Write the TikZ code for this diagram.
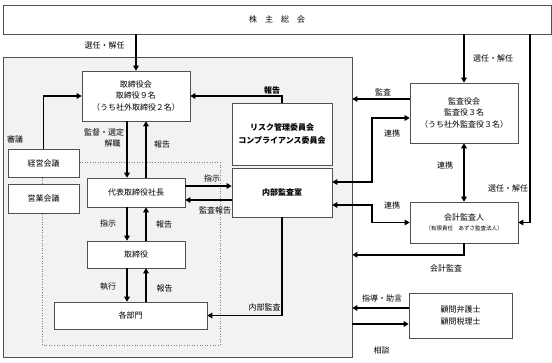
\documentclass[tikz,border=0pt]{standalone}
\usepackage{fontspec}
\usepackage{tikz}
\setmainfont{Noto Sans CJK JP}
\definecolor{hqfill}{HTML}{F2F2F2}
\definecolor{boxline}{HTML}{505050}
\usetikzlibrary{arrows.meta,calc}

\begin{document}
\begin{tikzpicture}[x=1pt,y=-1pt,
    box/.style={draw=boxline,fill=white,line width=0.6pt,align=center,inner sep=0pt,font=\fontsize{8}{11.5}\selectfont},
    lbl/.style={inner sep=1pt,font=\fontsize{8}{10}\selectfont},
    arr/.style={line width=1.8pt,-{Triangle[length=5pt,width=5.5pt]}},
    dbl/.style={line width=1.8pt,{Triangle[length=5pt,width=5.5pt]}-{Triangle[length=5pt,width=5.5pt]}}]
        \useasboundingbox (0,0) rectangle (552,362);
        \node[box,minimum width=548pt,minimum height=29pt] (soukai) at (277,19.5) {株　主　総　会};
        \node[draw=boxline,fill=hqfill,line width=0.6pt,minimum width=349pt,minimum height=300pt,inner sep=0pt] (hq) at (177.5,207) {};
        \draw[gray,dotted,line width=0.6pt] (42,162) rectangle (220,345);
        \node[box,minimum width=108pt,minimum height=50pt] (board) at (136,96) {取締役会\\取締役９名\\（うち社外取締役２名）};
        \node[box,minimum width=100pt,minimum height=62pt,font=\fontsize{8}{12.5}\selectfont\bfseries] (risk) at (282,134) {リスク管理委員会\\コンプライアンス委員会};
        \node[box,minimum width=100pt,minimum height=49pt,font=\fontsize{8}{10}\selectfont\bfseries] (naibu) at (282,192.5) {内部監査室};
        \node[box,minimum width=71pt,minimum height=28pt] (keiei) at (43.5,163) {経営会議};
        \node[box,minimum width=71pt,minimum height=29pt] (eigyo) at (43.5,198.5) {営業会議};
        \node[box,minimum width=98pt,minimum height=29pt] (shacho) at (136,192.5) {代表取締役社長};
        \node[box,minimum width=98pt,minimum height=27pt] (torishimari) at (136,254.5) {取締役};
        \node[box,minimum width=153pt,minimum height=27pt] (bumon) at (130.5,315.5) {各部門};
        \node[box,minimum width=108pt,minimum height=60pt] (kansa) at (464,113) {監査役会\\監査役３名\\（うち社外監査役３名）};
        \node[box,minimum width=108pt,minimum height=41pt] (kaikei) at (464,222.5) {会計監査人\\[-2pt]{\fontsize{5.5}{7}\selectfont（有限責任　あずさ監査法人）}};
        \node[box,minimum width=103pt,minimum height=45pt] (komon) at (460.5,315.5) {顧問弁護士\\顧問税理士};
        \coordinate (rline) at (530,222.5);

        \draw[arr] (soukai.south -| board.north) -- (board.north);
        \draw[arr] (soukai.south -| kansa.north) -- (kansa.north);
        \draw[arr] (soukai.south -| rline) |- (kaikei.east);
        \draw[arr] (keiei.north) |- (board.west);
        \draw[arr] (risk.north) |- (board.east);
        \draw[arr] ([xshift=-9pt]board.south) -- ([xshift=-9pt]shacho.north);
        \draw[arr] ([xshift=10pt]shacho.north) -- ([xshift=10pt]board.south);
        \draw[arr] ([xshift=-9pt]shacho.south) -- ([xshift=-9pt]torishimari.north);
        \draw[arr] ([xshift=10pt]torishimari.north) -- ([xshift=10pt]shacho.south);
        \draw[arr] ([xshift=-9pt]torishimari.south) -- ([xshift=-9pt]torishimari.south |- bumon.north);
        \draw[arr] ([xshift=10pt]torishimari.south |- bumon.north) -- ([xshift=10pt]torishimari.south);
        \draw[arr] ([yshift=6.5pt]shacho.east) -- ([yshift=6.5pt]naibu.west);
        \draw[arr] ([yshift=-7.5pt]naibu.west) -- ([yshift=-7.5pt]shacho.east);
        \draw[arr] (naibu.south) |- (bumon.east);
        \draw[dbl] ([yshift=10.5pt]naibu.east) -- ++(40,0) |- ([yshift=-5pt]kansa.west);
        \draw[dbl] ([yshift=-12.5pt]naibu.east) -- ++(40,0) |- (kaikei.west);
        \draw[dbl] (kansa.south) -- (kaikei.north);
        \draw[arr] ([yshift=14pt]kansa.west) coordinate (kansaout) -- (kansaout -| hq.east);
        \draw[arr] (kaikei.south) -- ++(0,11.5) coordinate (kaikeiout) -- (kaikeiout -| hq.east);
        \draw[arr] ([yshift=7.5pt]komon.west) coordinate (shidou) -- (shidou -| hq.east);
        \coordinate (soudan) at ([yshift=-8.5pt]komon.west);
        \draw[arr] (soudan -| hq.east) -- (soudan);

        \node[lbl] (sennin1) at (104.5,45) {選任・解任};
        \node[lbl] (sennin2) at (493,58) {選任・解任};
        \node[lbl] (sennin3) at (508,188) {選任・解任};
        \node[lbl,font=\fontsize{8}{10}\selectfont\bfseries] (houkoku1) at (272,90) {報告};
        \node[lbl] (kansalbl) at (383,92) {監査};
        \node[lbl] (shingi) at (15,139) {審議};
        \node[lbl] (kantoku) at (104,132) {監督・選定};
        \node[lbl] (kaishoku) at (112.5,143) {解職};
        \node[lbl] (houkoku2) at (162,144) {報告};
        \node[lbl] (shiji1) at (212,178) {指示};
        \node[lbl] (kansahoukoku) at (215,210) {監査報告};
        \node[lbl] (shiji2) at (108,223) {指示};
        \node[lbl] (houkoku3) at (164,224) {報告};
        \node[lbl] (shikkou) at (108,287) {執行};
        \node[lbl] (houkoku4) at (164.5,288) {報告};
        \node[lbl] (naibukansa) at (264.5,307) {内部監査};
        \node[lbl] (renkei1) at (392,133) {連携};
        \node[lbl] (renkei2) at (445,165) {連携};
        \node[lbl] (renkei3) at (392,205) {連携};
        \node[lbl] (kaikeikansa) at (446,268) {会計監査};
        \node[lbl] (shidoulbl) at (382,298) {指導・助言};
        \node[lbl] (soudanlbl) at (381.5,350) {相談};
      \end{tikzpicture}
\end{document}
